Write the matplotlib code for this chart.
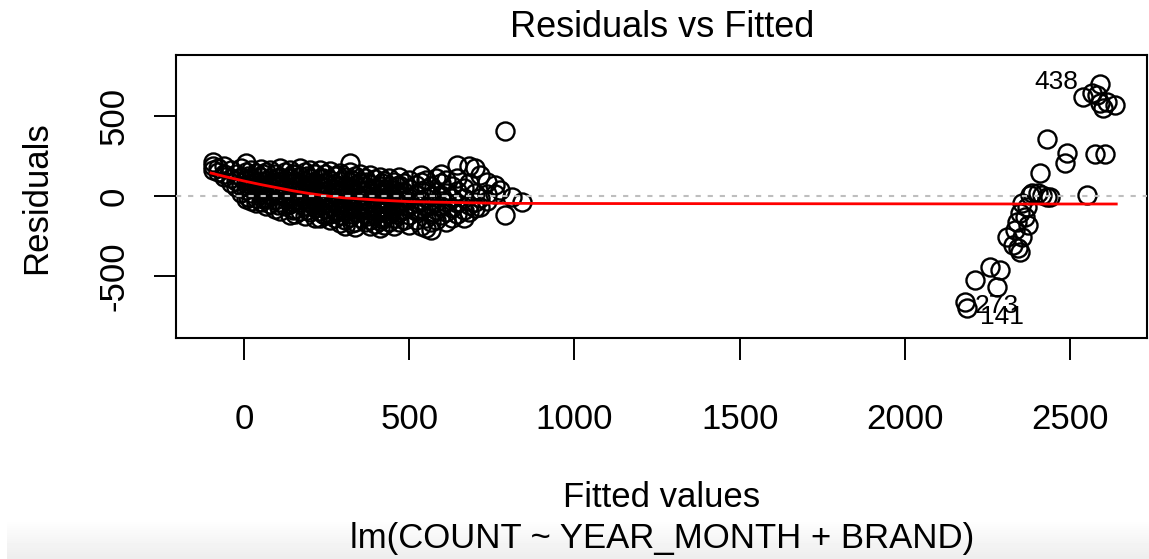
import numpy as np
import matplotlib
matplotlib.use("Agg")
from matplotlib import pyplot as plt

plt.rcParams['font.family'] = ['Liberation Sans', 'DejaVu Sans']

# left group: fitted value per column, residuals stacked in that column
left_fit = [-95, -80, -60, -40, -25, -10, 5, 20, 35, 50, 65, 80, 95, 110, 125, 140,
            155, 170, 185, 200, 215, 230, 245, 260, 275, 290, 305, 320, 335, 350,
            365, 380, 395, 410, 425, 440, 455, 470, 485, 500, 520, 535, 550, 565,
            580, 595, 610, 630, 645, 665, 680, 700, 715, 735, 760, 775, 790, 810, 840,
            12, 58, 102, 148, 192, 238, 282, 328, 372, 418, 462]
left_res = [
    [215, 190, 160], [175, 150], [190, 140, 120], [160, 110, 80], [140, 95, 55],
    [175, 120, 60, 20], [205, 150, 100, 40, -20], [165, 110, 70, 20, -30],
    [145, 90, 40, -10, -45], [170, 120, 70, 10, -40], [150, 95, 45, -15, -65],
    [165, 110, 60, 5, -50], [140, 85, 30, -25, -80], [175, 120, 65, 15, -40, -95],
    [150, 100, 45, -5, -60], [165, 110, 55, 0, -50, -120],
    [140, 85, 30, -25, -80, -110], [175, 125, 70, 15, -35, -95],
    [150, 95, 40, -10, -65, -125], [165, 110, 55, 5, -45, -100],
    [140, 85, 30, -20, -75, -135], [160, 110, 60, 10, -40, -95, -140],
    [135, 80, 30, -25, -80, -120], [155, 100, 45, -5, -60, -110, -150],
    [125, 75, 20, -30, -90, -140], [145, 95, 40, -15, -70, -120, -170],
    [120, 65, 10, -40, -95, -150, -190], [205, 150, 90, 35, -20, -75, -130],
    [125, 70, 15, -40, -100, -160, -195], [140, 85, 30, -25, -80, -135],
    [115, 60, 5, -50, -110, -165], [130, 75, 20, -35, -90, -150, -185],
    [105, 50, -5, -60, -120, -175], [120, 65, 10, -45, -100, -155, -200],
    [95, 40, -15, -70, -130, -180], [115, 60, 5, -50, -110, -165],
    [90, 35, -20, -75, -140, -190], [120, 70, 10, -45, -100, -160],
    [80, 25, -30, -85, -150], [100, 45, -10, -60, -120, -180],
    [70, 15, -40, -95, -150], [130, 85, 30, -25, -80, -190],
    [100, 45, -15, -70, -135, -200], [60, 0, -55, -110, -165, -215],
    [110, 25, -35, -90, -150], [140, 80, 5, -60, -120], [100, 20, -40, -100, -165],
    [60, -10, -75, -140], [195, 110, 30, -45, -110], [50, -15, -90, -135],
    [190, 80, -55, -100], [175, 20, -40, -75], [130, -10, -70], [90, 10, -30],
    [70, 15], [40], [405, -120], [-5], [-40],
    [125, 55, -5], [135, 85, 35, -20], [110, 60, 5, -55], [135, 80, 25, -35, -90],
    [125, 70, 20, -30, -85], [110, 55, 0, -55, -110], [130, 65, 10, -45, -100],
    [100, 50, -10, -65, -115, -170], [90, 40, -20, -70, -125], [80, 25, -35, -90, -145],
    [60, 0, -55, -115]]

right_fit = [2590, 2539, 2567, 2582, 2591, 2600, 2636, 2612, 2430, 2491, 2485, 2576,
             2606, 2409, 2551, 2379, 2403, 2430, 2439, 2385, 2415, 2355, 2370, 2349,
             2364, 2340, 2373, 2334, 2355, 2343, 2328, 2309, 2349, 2258, 2288, 2212,
             2279, 2182, 2188]
right_res = [702, 621, 646, 633, 583, 552, 570, 589, 357, 270, 207, 263,
             263, 144, 6, 6, 19, -6, -6, 19, 6, -44, -69, -107,
             -132, -163, -182, -213, -257, -326, -307, -257, -351, -445, -464, -527,
             -571, -665, -702]

smooth_fit = [-100, -50, 0, 50, 100, 150, 200, 250, 300, 400, 500, 600, 700, 800,
              1000, 1500, 2000, 2400, 2640]
smooth_res = [144, 118, 94, 72, 52, 32, 15, 1, -11, -25, -35, -39, -43, -46,
              -47, -48, -49, -50, -50]

id_labels = ['438', '273', '141']
id_x = [2524, 2279, 2294]
id_y = [715, -690, -759]
id_ha = ['right', 'center', 'center']

fitted = np.concatenate([np.repeat(left_fit, [len(c) for c in left_res]), right_fit])
resid = np.concatenate([np.concatenate(left_res), right_res])

W, H = 1149, 559
fig = plt.figure(figsize=(W / 100, H / 100), dpi=100)
ax = fig.add_axes([176 / W, 1 - 338 / H, (1147 - 176) / W, (338 - 55) / H])

ax.plot(fitted, resid, 'o', ms=13, mfc='none', mec='black', mew=1.7, zorder=2)
ax.plot(smooth_fit, smooth_res, color='red', lw=2, zorder=3)
ax.axhline(0, color='#bebebe', lw=1.5, dashes=(2.5, 3.3), zorder=4)
for lab, tx, ty, ha in zip(id_labels, id_x, id_y, id_ha):
    ax.text(tx, ty, lab, fontsize=19, ha=ha, va='center', zorder=5)

ax.set_xlim(-206, 2733)
ax.set_ylim(-890, 884)
ax.set_xticks([0, 500, 1000, 1500, 2000, 2500])
ax.set_yticks([-500, 0, 500])
ax.set_yticklabels(['-500', '0', '500'], rotation=90, va='center')
ax.tick_params(length=16, width=1.4, labelsize=25)
ax.tick_params(axis='x', pad=31)
ax.tick_params(axis='y', pad=17)
for s in ax.spines.values():
    s.set_linewidth(1.5)

fig.text(662 / W, 1 - 37 / H, 'Residuals vs Fitted', fontsize=26, ha='center', va='baseline')
fig.text(662 / W, 1 - 507 / H, 'Fitted values', fontsize=25, ha='center', va='baseline')
fig.text(662 / W, 1 - 548 / H, 'lm(COUNT ~ YEAR_MONTH + BRAND)', fontsize=25,
         ha='center', va='baseline')
fig.text(37 / W, 1 - 198 / H, 'Residuals', fontsize=25, rotation=90,
         ha='center', va='center')

# faint grey shading along the bottom edge of the screenshot
grad = fig.add_axes([7 / W, 0, 1 - 7 / W, 40 / H], zorder=-1)
grad.imshow(np.linspace(1.0, 0.93, 40).reshape(-1, 1), cmap='gray', vmin=0, vmax=1,
            aspect='auto', extent=[0, 1, 0, 1])
grad.axis('off')

fig.savefig('out.png', dpi=100)
